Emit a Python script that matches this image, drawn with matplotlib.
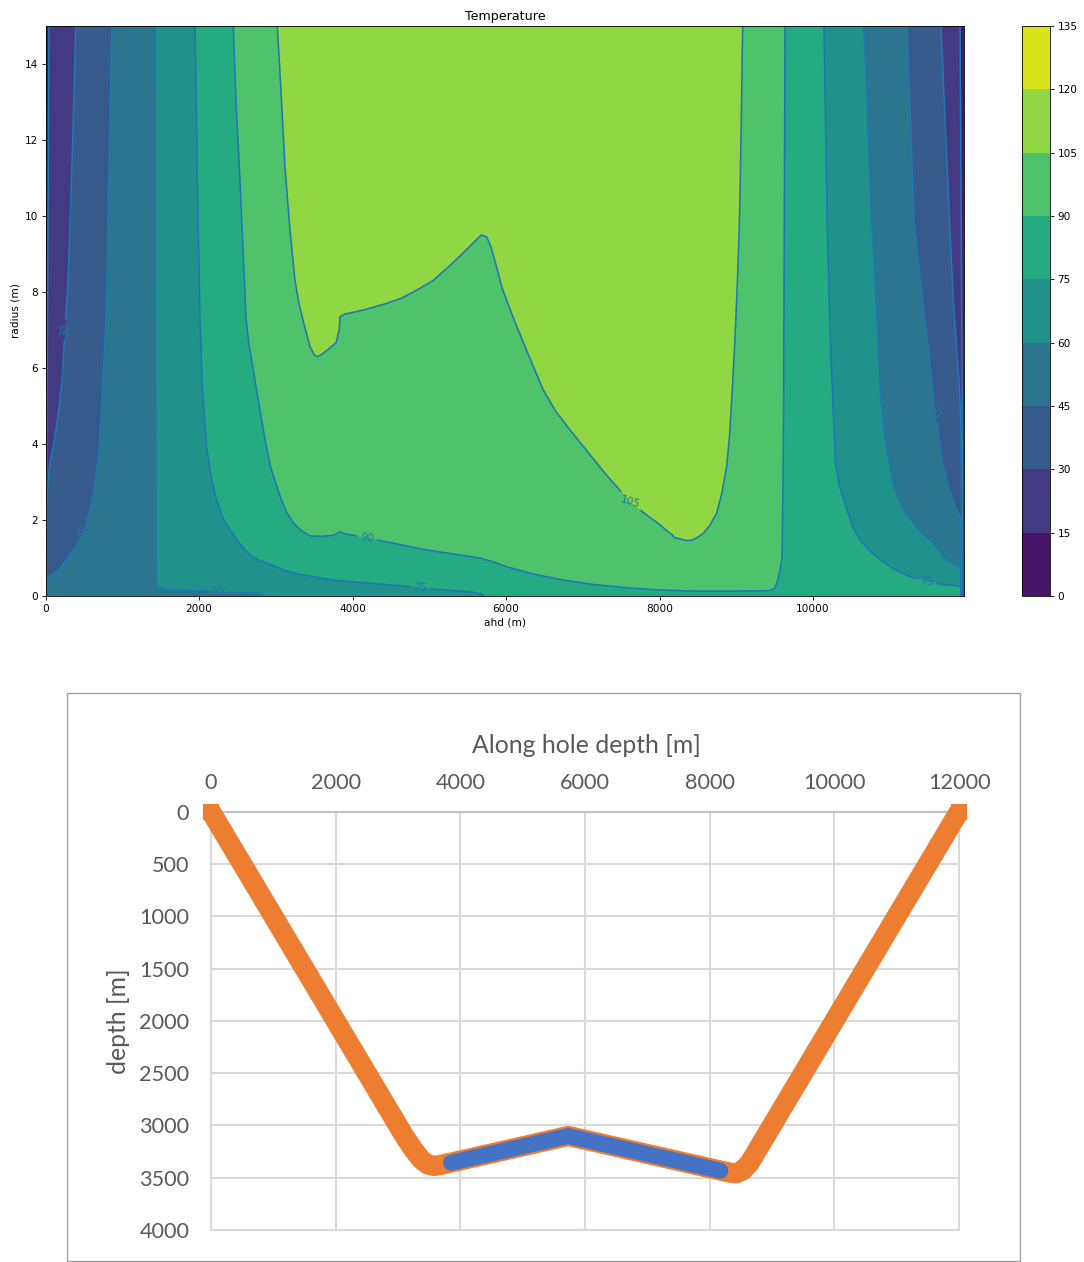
import numpy as np
import matplotlib
matplotlib.use("Agg")
import matplotlib.pyplot as plt
from matplotlib.colors import ListedColormap, BoundaryNorm
from matplotlib.cm import ScalarMappable
from matplotlib.patches import Rectangle

# temperature levels (degC)
levels = np.arange(0, 136, 15)

# traced contour lines, (ahd [m], radius [m]) listed from the top of the plot down
left_15 = [(43, 15), (25, 8), (12, 3), (8, 0)]
left_30 = [(391, 15), (352, 12), (294, 8.4), (251, 7.0), (215, 5.7), (170, 4.9),
           (121, 4.2), (85, 3.8), (56, 3.5), (21, 2.8), (12, 1.2), (12, 0)]
left_45 = [(864, 15), (825, 11.3), (786, 7.3), (740, 5.4), (700, 3.9), (660, 3.2),
           (615, 2.6), (555, 2.1), (490, 1.7), (410, 1.35), (320, 1.1), (230, 0.85),
           (150, 0.65), (80, 0.55), (30, 0.5), (16, 0.3), (16, 0)]
left_60 = [(1424, 15), (1430, 8), (1437, 2), (1440, 0.6), (1445, 0.42), (1467, 0.22),
           (1577, 0.16), (2098, 0.13), (2401, 0.1), (2792, 0.06), (2830, 0)]
left_75 = [(1946, 15), (1985, 10), (2010, 7.3), (2040, 5.5), (2098, 3.9), (2150, 3.2),
           (2215, 2.6), (2320, 2.0), (2450, 1.6), (2540, 1.35), (2650, 1.1),
           (2770, 0.95), (2900, 0.85), (3100, 0.68), (3313, 0.57), (3744, 0.42),
           (4250, 0.33), (4747, 0.25), (5007, 0.19), (5567, 0.1), (5694, 0.04), (5710, 0)]
right_15 = [(11915, 15), (11935, 8), (11948, 3), (11950, 0)]
right_30 = [(11666, 15), (11774, 10), (11826, 7.8), (11905, 5.5), (11930, 4.3),
            (11938, 1.5), (11940, 0)]
right_45 = [(11227, 15), (11310, 10), (11400, 8.2), (11480, 6.9), (11588, 4.85),
            (11696, 3.4), (11760, 2.9), (11826, 2.5), (11928, 2.0), (11934, 0)]
right_60 = [(10662, 15), (10760, 10), (10840, 7.0), (10880, 5.2), (10930, 4.3),
            (10990, 3.5), (11040, 3.0), (11100, 2.6), (11200, 2.2), (11305, 1.92),
            (11430, 1.62), (11566, 1.39), (11718, 1.0), (11830, 0.84), (11925, 0.74),
            (11930, 0)]
right_75 = [(10142, 15), (10180, 10), (10220, 7.0), (10260, 5.0), (10290, 3.5),
            (10350, 2.85), (10437, 2.3), (10510, 1.85), (10600, 1.5), (10740, 1.18),
            (10900, 0.92), (11060, 0.7), (11250, 0.52), (11480, 0.38), (11700, 0.3),
            (11913, 0.26), (11925, 0.2), (11927, 0)]
u_90 = [(2444, 15), (2480, 13), (2523, 11.3), (2570, 9.2), (2610, 7.3), (2650, 6.6),
        (2701, 6.0), (2750, 5.4), (2800, 4.8), (2860, 4.1), (2930, 3.4), (3000, 2.95),
        (3060, 2.6), (3140, 2.2), (3230, 1.92), (3330, 1.72), (3450, 1.58), (3600, 1.57),
        (3750, 1.6), (3835, 1.69), (3900, 1.64), (4004, 1.6), (4356, 1.46), (4964, 1.21),
        (5500, 1.05), (5658, 1.0), (5800, 0.92), (6010, 0.77), (6350, 0.58), (6741, 0.42),
        (7150, 0.3), (7613, 0.21), (8000, 0.16), (8395, 0.13), (9000, 0.13), (9436, 0.14),
        (9500, 0.2), (9540, 0.42), (9570, 0.7), (9594, 1.0), (9605, 2.5), (9615, 5.0),
        (9625, 10), (9634, 15)]
u_105 = [(3018, 15), (3060, 13.5), (3118, 11.3), (3180, 9.7), (3248, 8.3), (3300, 7.7),
         (3360, 7.2), (3444, 6.56), (3500, 6.35), (3539, 6.3), (3600, 6.36), (3747, 6.6),
         (3783, 6.66), (3825, 7.0), (3835, 7.35), (3900, 7.42), (4150, 7.53), (4443, 7.7),
         (4650, 7.85), (4834, 8.05), (5047, 8.3), (5268, 8.7), (5400, 8.95), (5550, 9.25),
         (5650, 9.45), (5681, 9.5), (5746, 9.45), (5800, 9.2), (5870, 8.7), (5942, 8.14),
         (6040, 7.6), (6137, 7.1), (6300, 6.3), (6484, 5.42), (6650, 4.85), (6832, 4.37),
         (7000, 3.95), (7180, 3.5), (7300, 3.2), (7440, 2.88), (7613, 2.48), (7831, 2.13),
         (8000, 1.88), (8135, 1.65), (8170, 1.6), (8190, 1.54), (8352, 1.46), (8420, 1.47),
         (8500, 1.55), (8569, 1.65), (8650, 1.85), (8743, 2.18), (8810, 2.7), (8873, 3.4),
         (8910, 4.2), (8939, 5.16), (8975, 6.5), (9004, 7.8), (9030, 9.2), (9046, 10.4),
         (9065, 12.7), (9082, 15)]

# inline contour labels
label_text = ['30', '45', '60', '75', '90', '105', '45', '60', '75']
label_ahd = [250, 490, 2240, 4880, 4190, 7613, 11600, 11720, 11480]
label_r = [7.0, 1.7, 0.1, 0.22, 1.52, 2.48, 4.85, 1.0, 0.38]
label_rot = [84, 62, 0, -5, -8, -17, -65, -20, -5]
label_line = [left_30, left_45, left_60, left_75, u_90, u_105, right_45, right_60, right_75]

# well trajectory (Excel chart)
traj_ahd = [0, 3100, 3250, 3380, 3480, 3580, 3700, 5731, 8200, 8330, 8430, 8530, 8640, 12000]
traj_depth = [0, 3100, 3235, 3330, 3375, 3388, 3376, 3101, 3435, 3452, 3458, 3430, 3360, 0]
heated_ahd = [3850, 5731, 8172]
heated_depth = [3357, 3101, 3433]


def cut_gap(ax, pts, xy0, half):
    """split a polyline around a label position, gap given in pixels"""
    xy = ax.transData.transform(np.asarray(pts, float))
    seg = np.diff(xy, axis=0)
    seglen = np.hypot(seg[:, 0], seg[:, 1])
    s = np.concatenate([[0], np.cumsum(seglen)])
    c = ax.transData.transform(xy0)
    best = (np.inf, 0.0)
    for i in range(len(seg)):
        L2 = seg[i] @ seg[i]
        t = 0.0 if L2 == 0 else np.clip((c - xy[i]) @ seg[i] / L2, 0, 1)
        d = np.hypot(*(xy[i] + t * seg[i] - c))
        if d < best[0]:
            best = (d, s[i] + t * seglen[i])
    a, b = best[1] - half, best[1] + half
    at = lambda v: [np.interp(v, s, xy[:, 0]), np.interp(v, s, xy[:, 1])]
    first = [list(p) for p, sv in zip(xy, s) if sv < a] + [at(a)]
    second = [at(b)] + [list(p) for p, sv in zip(xy, s) if sv > b]
    inv = ax.transData.inverted()
    return [inv.transform(np.array(first)), inv.transform(np.array(second))]


fig = plt.figure(figsize=(10.84, 12.62), dpi=100)

# ---------------- temperature contour plot ----------------
ax = fig.add_axes([0.04216, 0.52773, 0.84714, 0.45166])
cax = fig.add_axes([0.9431, 0.52773, 0.02555, 0.45166])

band_colors = plt.cm.viridis((levels[:-1] + 7.5) / levels[-1])
ax.set_facecolor(band_colors[0])
regions = [left_15 + right_15[::-1], left_30 + right_30[::-1], left_45 + right_45[::-1],
           left_60 + right_60[::-1], left_75 + right_75[::-1], u_90, u_105]
for i, poly in enumerate(regions):
    px, py = zip(*poly)
    ax.fill(px, py, color=band_colors[i + 1], lw=0)

ax.set_xlim(0, 11966)
ax.set_ylim(0, 15)
ax.set_xticks(range(0, 10001, 2000))
ax.set_yticks(range(0, 15, 2))

lw_c = 1.15
labelled = {id(l): k for k, l in enumerate(label_line)}
for line in [left_15, left_30, left_45, left_60, left_75,
             right_15, right_30, right_45, right_60, right_75, u_90, u_105]:
    k = labelled.get(id(line))
    if k is None:
        lx, ly = zip(*line)
        ax.plot(lx, ly, color='C0', lw=lw_c, solid_joinstyle='round')
        continue
    half = len(label_text[k]) * 3.4 + 4
    for piece in cut_gap(ax, line, (label_ahd[k], label_r[k]), half):
        ax.plot(piece[:, 0], piece[:, 1], color='C0', lw=lw_c, solid_joinstyle='round')
    ax.text(label_ahd[k], label_r[k], label_text[k], color='C0', fontsize=7.6,
            rotation=label_rot[k], rotation_mode='anchor', ha='center', va='center')

ax.tick_params(labelsize=7.6, length=2.7, width=0.6, pad=2.7)
for sp in ax.spines.values():
    sp.set_linewidth(0.6)
ax.set_title('Temperature', fontsize=9.1, pad=4.6)
ax.set_xlabel('ahd (m)', fontsize=7.6, labelpad=3)
ax.set_ylabel('radius (m)', fontsize=7.6, labelpad=3)

cmap = ListedColormap(band_colors)
norm = BoundaryNorm(levels, cmap.N)
cb = fig.colorbar(ScalarMappable(norm=norm, cmap=cmap), cax=cax, ticks=levels)
cb.ax.tick_params(labelsize=7.6, length=2.7, width=0.6, pad=2.7)
cb.outline.set_linewidth(0.6)

# ---------------- well trajectory (Excel style) ----------------
grey = '#595959'
fig.add_artist(Rectangle((67 / 1084, 1 - 1261 / 1262), 953 / 1084, 568 / 1262,
                         transform=fig.transFigure, fill=False, ec='#a0a0a0', lw=1))

ax2 = fig.add_axes([0.19465, 0.02536, 0.69004, 0.33146])
ax2.plot(traj_ahd, traj_depth, color='#ED7D31', lw=14.5, solid_joinstyle='round',
         solid_capstyle='butt', marker='s', markevery=[0, len(traj_ahd) - 1], ms=12,
         mew=0, clip_on=False, zorder=3)
ax2.plot(heated_ahd, heated_depth, color='#4472C4', lw=11.5, solid_joinstyle='round',
         solid_capstyle='round', zorder=4)
ax2.set_xlim(0, 12000)
ax2.set_ylim(4000, 0)
xt = list(range(0, 12001, 2000))
yt = list(range(0, 4001, 500))
ax2.xaxis.tick_top()
ax2.set_xticks(xt, labels=[str(v) for v in xt], fontfamily='Lato', fontsize=15.6, color=grey)
ax2.set_yticks(yt, labels=[str(v) for v in yt], fontfamily='Lato', fontsize=15.6, color=grey)
ax2.tick_params(axis='x', length=0, pad=13.5)
ax2.tick_params(axis='y', length=0, pad=15.6)
ax2.grid(color='#d9d9d9', lw=1.5)
ax2.set_axisbelow(True)
for name, sp in ax2.spines.items():
    sp.set_color('#bfbfbf' if name == 'top' else '#d9d9d9')
    sp.set_linewidth(1.5)

fig.text(586 / 1084, 1 - 752.7 / 1262, 'Along hole depth [m]', fontfamily='Lato',
         fontsize=17.8, color=grey, ha='center', va='baseline')
fig.text(118.5 / 1084, 1 - 1021 / 1262, 'depth [m]', fontfamily='Lato', fontsize=17.8,
         color=grey, ha='center', va='center', rotation=90)

fig.savefig('out.png', dpi=100)
